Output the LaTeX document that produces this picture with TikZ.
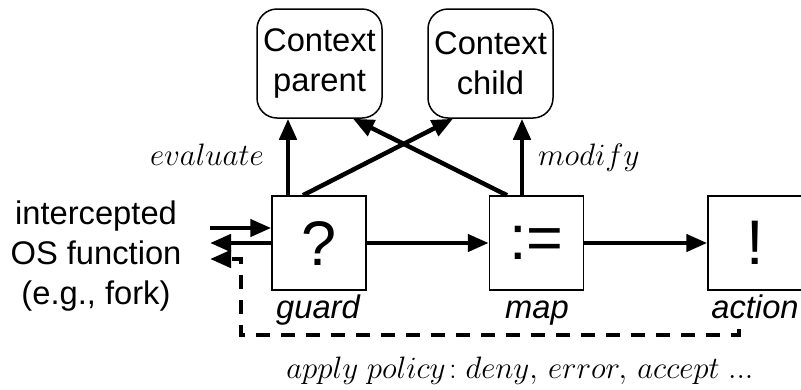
\RequirePackage{fix-cm}
\documentclass[tikz,border=0pt]{standalone}
\usepackage{fontspec}
\setmainfont{Liberation Sans}
\usetikzlibrary{arrows.meta,calc}

\tikzset{
  ctxbox/.style={draw, line width=1.5pt, rounded corners=20pt, minimum width=125pt,
    minimum height=109pt, inner sep=0pt, align=center,
    font=\fontsize{32.7}{40}\selectfont},
  opbox/.style={draw, line width=1.5pt, minimum width=94pt, minimum height=94pt,
    inner sep=0pt, font=\fontsize{63}{63}\selectfont},
  oplabel/.style={anchor=base, inner sep=0pt, font=\fontsize{32.7}{40}\selectfont\itshape},
  mathlabel/.style={inner sep=0pt, font=\fontsize{31}{36}\selectfont},
  arr/.style={line width=4.5pt, -{Triangle[length=21pt,width=17pt]}},
  retarr/.style={arr, dash pattern=on 14pt off 11pt},
}

\begin{document}
\begin{tikzpicture}[x=1pt,y=-1pt]
\useasboundingbox (0,0) rectangle (801,389);

% context objects
\node[ctxbox] (parent) at (319.5,63.5) {Context\\parent};
\node[ctxbox] (child)  at (490.5,63.5) {Context\\child};

% pipeline stages
\node[opbox] (guard)  at (319,243) {?};
\node[opbox] (map)    at (536.5,243) {:=};
\node[opbox] (action) at (755,243) {!};

\node[oplabel] (lguard)  at (318,318) {guard};
\node[oplabel] (lmap)    at (537,318) {map};
\node[oplabel] (laction) at (755,318) {action};

% intercepted call
\node[align=center, inner sep=0pt, font=\fontsize{32.7}{40}\selectfont] (osfn) at (96,256)
  {intercepted\\OS function\\(e.g., fork)};

\coordinate (inL)  at (210,228);
\coordinate (outL) at (210,243);
\coordinate (retL) at (210,259);
\coordinate (retA) at (739,329);
\coordinate (retB) at (739,335);
\coordinate (retC) at (241,335);
\coordinate (retD) at (241,259);

% call flow
\draw[arr] (inL) -- ([yshift=15pt]guard.west);
\draw[arr] (guard.west) -- (outL);
\draw[arr] (guard) -- (map);
\draw[arr] (map) -- (action);

% context access
\draw[arr] ([xshift=-31pt]guard.north) -- ([xshift=-31.5pt]parent.south);
\draw[arr] ([xshift=-16pt]guard.north) -- ([xshift=-37.5pt]child.south);
\draw[arr] ([xshift=-29.5pt]map.north) -- ([xshift=33.5pt]parent.south);
\draw[arr] ([xshift=-14.5pt]map.north) -- ([xshift=31.5pt]child.south);

\node[mathlabel, anchor=base east] (leval) at (264,165) {$evaluate$};
\node[mathlabel, anchor=base west] (lmod) at (538,165) {$modify$};

% policy result returned to caller
\draw[retarr] (retA) -- (retB) -- (retC) -- (retD) -- (retL);
\node[mathlabel, anchor=base] (lpolicy) at (520,378) {$apply\ policy\!: deny,\, error,\, accept\ ...$};
\end{tikzpicture}
\end{document}
